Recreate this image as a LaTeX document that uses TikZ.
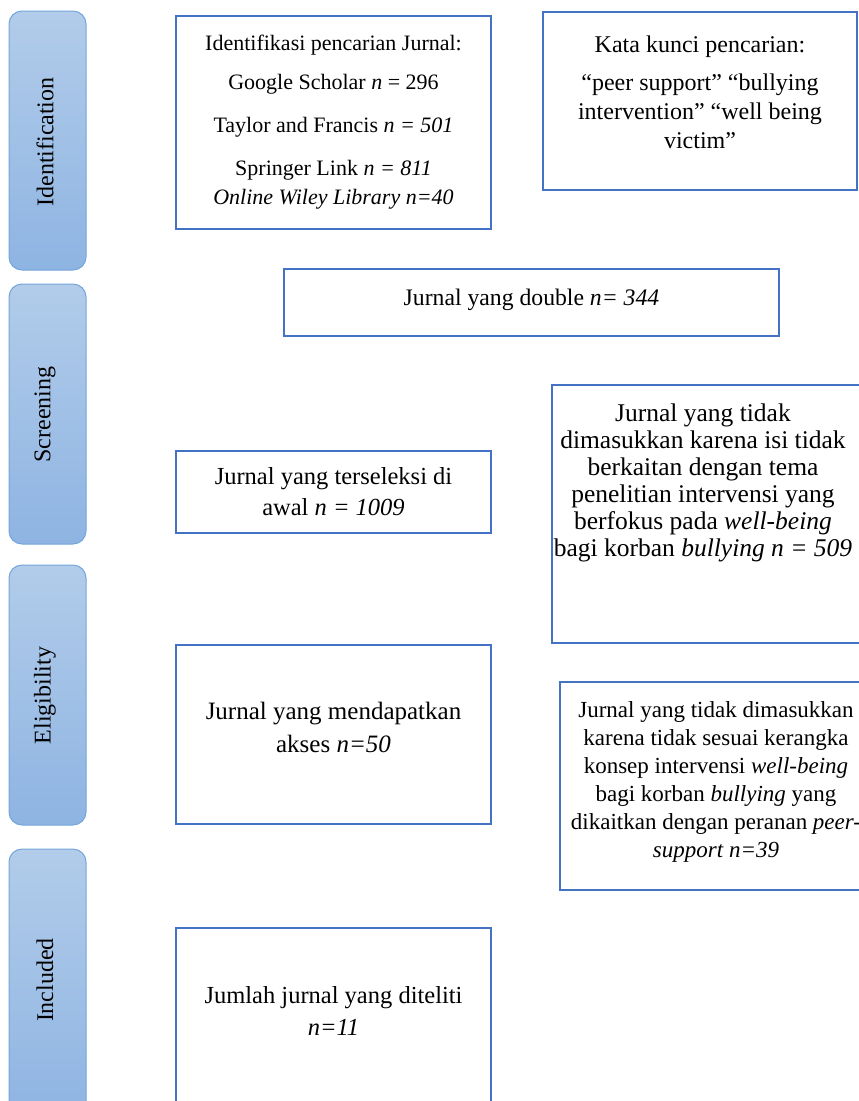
\documentclass[tikz,border=0pt]{standalone}
\usepackage{fontspec}
\setmainfont{Liberation Serif}
\definecolor{boxblue}{HTML}{4472C4}
\definecolor{bartop}{HTML}{B2CCEA}
\definecolor{barbot}{HTML}{8EB4E2}
\definecolor{barline}{HTML}{73A5DB}
\begin{document}
\begin{tikzpicture}[x=1pt,y=-1pt,
  box/.style={draw=boxblue, line width=2pt, fill=white, inner sep=0pt},
  bar/.style={draw=barline, line width=1pt, rounded corners=13pt, top color=bartop, bottom color=barbot, inner sep=0pt},
  txt/.style={align=center, inner sep=0pt, text=black},
  bartxt/.style={rotate=90, inner sep=0pt, font=\fontsize{24}{26}\selectfont}]
\useasboundingbox (0,0) rectangle (859,1101);
\clip (0,0) rectangle (859,1101);
% phase bars
\node[bar, minimum width=77pt, minimum height=259pt] (idbar) at (47.5,140.5) {};
\node[bar, minimum width=77pt, minimum height=260pt] (scbar) at (47.5,414) {};
\node[bar, minimum width=77pt, minimum height=260pt] (elbar) at (47.5,695) {};
\node[bar, minimum width=77pt, minimum height=270pt] (inbar) at (47.5,984) {};
\node[bartxt] (idtxt) at (45,142) {Identification};
\node[bartxt] (sctxt) at (45,414.5) {Screening};
\node[bartxt] (eltxt) at (45,695.5) {Eligibility};
\node[bartxt] (intxt) at (45,980) {Included};
% boxes
\node[box, minimum width=315pt, minimum height=213pt] (b1) at (333.5,122.5) {};
\node[box, minimum width=314pt, minimum height=178pt] (b2) at (700,101) {};
\node[box, minimum width=495pt, minimum height=67pt] (bd) at (531.5,302.5) {};
\node[box, minimum width=315pt, minimum height=82pt] (bt) at (333.5,492) {};
\node[box, minimum width=320pt, minimum height=258pt] (bx) at (712,514) {};
\node[box, minimum width=315pt, minimum height=179pt] (ba) at (333.5,734.5) {};
\node[box, minimum width=312pt, minimum height=208pt] (by) at (716,786) {};
\node[box, minimum width=315pt, minimum height=190pt] (bj) at (333.5,1023) {};
% texts
\node[txt, font=\fontsize{22}{29}\selectfont] (t1) at (333.5,122) {Identifikasi pencarian Jurnal:\\[10pt]
Google Scholar \textit{n} = 296\\[14pt]
Taylor and Francis \textit{n = 501}\\[14pt]
Springer Link \textit{n = 811}\\
\textit{Online Wiley Library n=40}};
\node[txt, font=\fontsize{24}{29}\selectfont] (t2) at (700,92) {Kata kunci pencarian:\\[9pt]
“peer support” “bullying\\
intervention” “well being\\
victim”};
\node[txt, font=\fontsize{23.7}{30}\selectfont] (td) at (531.5,300) {Jurnal yang double \textit{n}\textit{= 344}};
\node[txt, font=\fontsize{24.5}{31}\selectfont] (tt) at (333.5,492) {Jurnal yang terseleksi di\\awal \textit{n = 1009}};
\node[txt, font=\fontsize{25.5}{27}\selectfont] (tx) at (703,483) {Jurnal yang tidak\\
dimasukkan karena isi tidak\\
berkaitan dengan tema\\
penelitian intervensi yang\\
berfokus pada \textit{well-being}\\
bagi korban \textit{bullying n = 509}};
\node[txt, font=\fontsize{25}{33}\selectfont] (ta) at (333.5,727) {Jurnal yang mendapatkan\\akses \textit{n=50}};
\node[txt, font=\fontsize{23}{28}\selectfont] (ty) at (716,782) {Jurnal yang tidak dimasukkan\\
karena tidak sesuai kerangka\\
konsep intervensi \textit{well-being}\\
bagi korban \textit{bullying} yang\\
dikaitkan dengan peranan \textit{peer-}\\
\textit{support n=39}};
\node[txt, font=\fontsize{24.5}{32}\selectfont] (tj) at (333.5,1011) {Jumlah jurnal yang diteliti\\\textit{n=11}};
\end{tikzpicture}
\end{document}
